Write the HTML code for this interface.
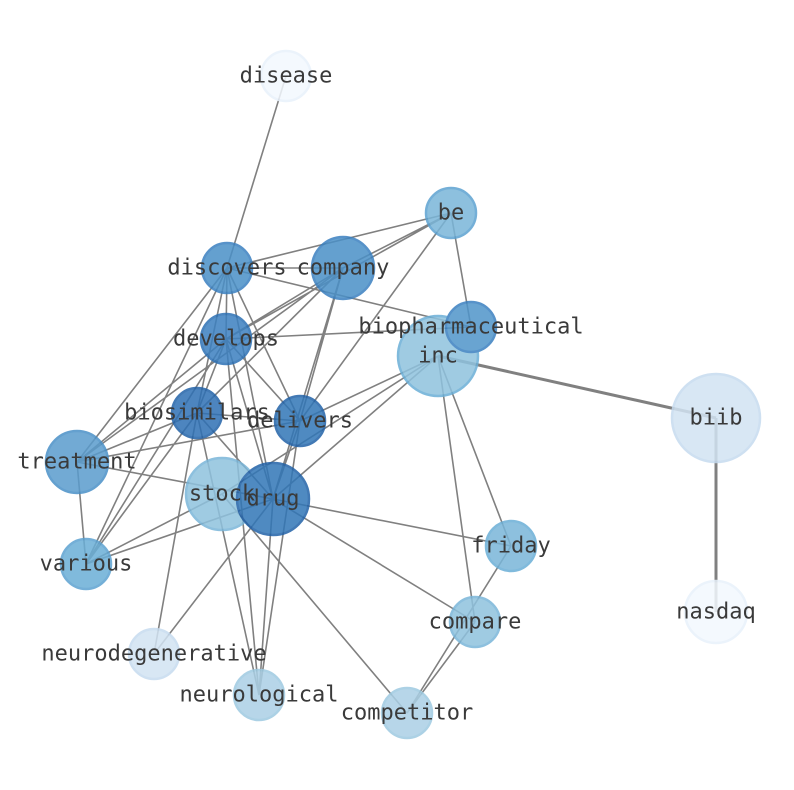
<!DOCTYPE html>
<html><head><meta charset="utf-8"><style>body{margin:0;background:#fff}svg{display:block}text{font-family:"DejaVu Sans Mono","Liberation Mono",monospace;font-size:22px;fill:#3a3a3a;text-anchor:middle;dominant-baseline:central}</style></head><body>
<svg width="794" height="790" xmlns="http://www.w3.org/2000/svg">
<g stroke="#808080" stroke-width="1.6" fill="none">
<path d="M286 76L227 268M451 213L227 268M451 213L343 268M451 213L226 339M451 213L471 327M451 213L300 421
M227 268L343 268M227 268L226 339M227 268L197 413M227 268L300 421M227 268L273 499M227 268L77 462M227 268L471 327M227 268L86 564
M343 268L226 339M343 268L300 421M343 268L273 499M343 268L197 413M343 268L77 462
M226 339L471 327M226 339L300 421M226 339L273 499M226 339L77 462M226 339L86 564M226 339L197 413M226 339L259 695
M197 413L300 421M197 413L273 499M197 413L86 564M197 413L77 462M197 413L259 695M197 413L154 654
M438 356L300 421M438 356L273 499M438 356L222 494M438 356L511 546M438 356L475 622
M77 462L86 564M77 462L273 499M77 462L300 421
M273 499L511 546M273 499L475 622M273 499L86 564M273 499L154 654M273 499L259 695M222 494L86 564
M222 494L407 713M511 546L407 713M475 622L407 713M300 421L259 695M300 421L273 499"/>
<path d="M438 356L716 418M716 418L716 612" stroke-width="3"/>
</g>
<g stroke-width="2.5" opacity="0.85">
<circle cx="286" cy="76" r="25" fill="#f3f8fe" stroke="#e8f1fb"/>
<circle cx="716" cy="418" r="44" fill="#d2e3f3" stroke="#c6dbef"/>
<circle cx="716" cy="612" r="31" fill="#f3f8fe" stroke="#e8f1fb"/>
<circle cx="451" cy="213" r="25" fill="#7ab6d9" stroke="#5ca2d1"/>
<circle cx="227" cy="268" r="25" fill="#4a90c7" stroke="#3a80c0"/>
<circle cx="343" cy="268" r="31" fill="#4a90c7" stroke="#3a80c0"/>
<circle cx="438" cy="356" r="40" fill="#8fc2de" stroke="#6aaed6"/>
<circle cx="471" cy="327" r="25" fill="#4f95ca" stroke="#3a80c0"/>
<circle cx="226" cy="339" r="25" fill="#3c80c0" stroke="#2c70b4"/>
<circle cx="197" cy="413" r="25" fill="#2e70b4" stroke="#2262a8"/>
<circle cx="300" cy="421" r="25" fill="#3176b7" stroke="#2262a8"/>
<circle cx="77" cy="462" r="31" fill="#5a9ccd" stroke="#4a90c7"/>
<circle cx="222" cy="494" r="36" fill="#8fc2de" stroke="#7ab6d9"/>
<circle cx="273" cy="499" r="36" fill="#3176b7" stroke="#2262a8"/>
<circle cx="511" cy="546" r="25" fill="#7ab6d9" stroke="#6aaed6"/>
<circle cx="86" cy="564" r="25" fill="#6aaed6" stroke="#5ca2d1"/>
<circle cx="475" cy="622" r="25" fill="#8fc2de" stroke="#7ab6d9"/>
<circle cx="154" cy="654" r="25" fill="#d2e3f3" stroke="#c6dbef"/>
<circle cx="259" cy="695" r="25" fill="#abd0e6" stroke="#9ecae1"/>
<circle cx="407" cy="713" r="25" fill="#abd0e6" stroke="#9ecae1"/>
</g>
<text x="286" y="76">disease</text>
<text x="451" y="213">be</text>
<text x="227" y="268">discovers</text>
<text x="343" y="268">company</text>
<text x="471" y="327">biopharmaceutical</text>
<text x="438" y="356">inc</text>
<text x="226" y="339">develops</text>
<text x="197" y="413">biosimilars</text>
<text x="300" y="421">delivers</text>
<text x="716" y="418">biib</text>
<text x="77" y="462">treatment</text>
<text x="222" y="494">stock</text>
<text x="273" y="499">drug</text>
<text x="511" y="546">friday</text>
<text x="86" y="564">various</text>
<text x="475" y="622">compare</text>
<text x="716" y="612">nasdaq</text>
<text x="154" y="654">neurodegenerative</text>
<text x="259" y="695">neurological</text>
<text x="407" y="713">competitor</text>
</svg>
</body></html>
